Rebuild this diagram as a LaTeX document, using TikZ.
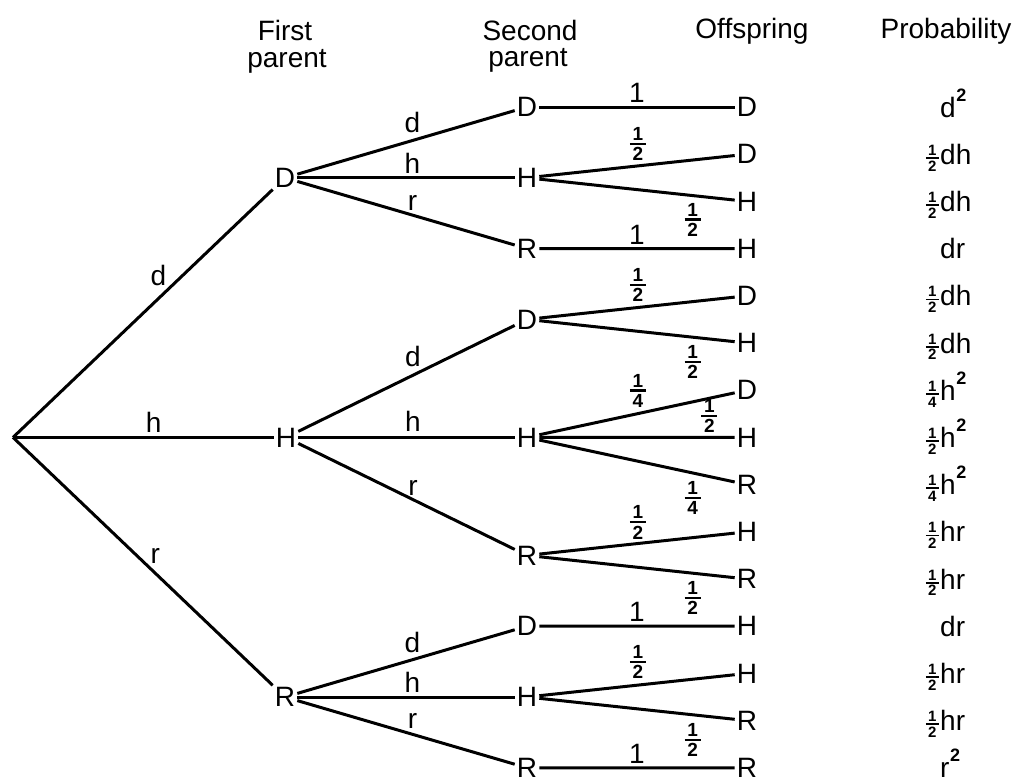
\documentclass[tikz,border=0pt]{standalone}
\usepackage{fontspec}
\setmainfont{Liberation Sans}

% stacked fraction: size, numerator, denominator
\newcommand\fr[3]{\ensuremath{\vcenter{\hbox{\fontsize{#1}{#1}\selectfont\bfseries
  \vbox{\offinterlineskip\halign{\hfil##\hfil\cr
    #2\cr
    \noalign{\kern0.12em}
    \vrule width 0.85em height 0.12em depth 0pt\cr
    \noalign{\kern0.12em}
    #3\cr}}}}}}
% bold raised square
\newcommand\sq{\kern0.5pt\raisebox{16pt}{\fontsize{18}{18}\selectfont\bfseries 2}}
% probability entry: fraction hangs to the left of the letters
\newcommand\pr[2]{\llap{#1\kern1.5pt}#2}
\newcommand\half{\fr{19}{1}{2}}
\newcommand\quarter{\fr{19}{1}{4}}
\newcommand\phalf{\fr{15}{1}{2}}
\newcommand\pquarter{\fr{15}{1}{4}}

\begin{document}
\begin{tikzpicture}[x=1pt,y=-1pt,
  every node/.style={font=\fontsize{28}{28}\selectfont},
  gn/.style={inner sep=2pt},
  br/.style={line width=3pt},
  lb/.style={inner sep=0pt},
  hd/.style={anchor=base, inner sep=0pt},
  pb/.style={anchor=base west, inner sep=0pt}]
\useasboundingbox (0,0) rectangle (1017,782);

% column headings
\node[hd] (h1a) at (285,40) {First};
\node[hd] (h1b) at (287,67) {parent};
\node[hd] (h2a) at (530,40) {Second};
\node[hd] (h2b) at (528,66) {parent};
\node[hd] (h3)  at (752,38) {Offspring};
\node[hd] (h4)  at (946,38) {Probability};

% root and first parent
\coordinate (root) at (13,437.4);
\node[gn] (DP) at (285,177.8) {D};
\node[gn] (HP) at (286,437.4) {H};
\node[gn] (RP) at (285,697) {R};

% second parent
\node[gn] (DD) at (527,107) {D};
\node[gn] (DH) at (527,177.8) {H};
\node[gn] (DR) at (527,248.6) {R};
\node[gn] (HD) at (527,319.4) {D};
\node[gn] (HH) at (527,437.4) {H};
\node[gn] (HR) at (527,555.4) {R};
\node[gn] (RD) at (527,626.2) {D};
\node[gn] (RH) at (527,697) {H};
\node[gn] (RR) at (527,767.8) {R};

% offspring
\foreach \i/\l in {0/D,1/D,2/H,3/H,4/D,5/H,6/D,7/H,8/R,9/H,10/R,11/H,12/H,13/R,14/R}
  \node[gn] (o\i) at (747,{107+47.2*\i}) {\l};

% probabilities
\foreach \i/\t in {0/{d\sq},1/{\pr{\phalf}{dh}},2/{\pr{\phalf}{dh}},3/{dr},
    4/{\pr{\phalf}{dh}},5/{\pr{\phalf}{dh}},6/{\pr{\pquarter}{h\sq}},
    7/{\pr{\phalf}{h\sq}},8/{\pr{\pquarter}{h\sq}},9/{\pr{\phalf}{hr}},
    10/{\pr{\phalf}{hr}},11/{dr},12/{\pr{\phalf}{hr}},13/{\pr{\phalf}{hr}},14/{r\sq}}
  \node[pb] (p\i) at (940,{117+47.2*\i}) {\t};

% first parent branches
\draw[br] (root) -- node[lb,pos=.6,above left=1pt] {d} (DP);
\draw[br] (root) -- node[lb,pos=.54,above=3pt] {h} (HP);
\draw[br] (root) -- node[lb,pos=.52,above right=1pt] {r} (RP);

% second parent branches
\draw[br] (DP) -- node[lb,pos=.53,above=6pt] {d} (DD);
\draw[br] (DP) -- node[lb,pos=.53,above=3pt] {h} (DH);
\draw[br] (DP) -- node[lb,pos=.53,above=3pt] {r} (DR);
\draw[br] (HP) -- node[lb,pos=.53,above=7pt] {d} (HD);
\draw[br] (HP) -- node[lb,pos=.53,above=4pt] {h} (HH);
\draw[br] (HP) -- node[lb,pos=.53,above=3pt] {r} (HR);
\draw[br] (RP) -- node[lb,pos=.53,above=5pt] {d} (RD);
\draw[br] (RP) -- node[lb,pos=.53,above=3pt] {h} (RH);
\draw[br] (RP) -- node[lb,pos=.53,above=4pt] {r} (RR);

% offspring branches
\draw[br] (DD) -- node[lb,pos=.5,above=3pt] {1} (o0);
\draw[br] (DH) -- node[lb,pos=.505,above=4pt] {\half} (o1);
\draw[br] (DH) -- node[lb,pos=.785,below=6pt] {\half} (o2);
\draw[br] (DR) -- node[lb,pos=.5,above=3pt] {1} (o3);
\draw[br] (HD) -- node[lb,pos=.505,above=4pt] {\half} (o4);
\draw[br] (HD) -- node[lb,pos=.785,below=7pt] {\half} (o5);
\draw[br] (HH) -- node[lb,pos=.505,above=5pt] {\quarter} (o6);
\draw[br] (HH) -- node[lb,pos=.87,above=3pt] {\half} (o7);
\draw[br] (HH) -- node[lb,pos=.785,below=7pt] {\quarter} (o8);
\draw[br] (HR) -- node[lb,pos=.505,above=3pt] {\half} (o9);
\draw[br] (HR) -- node[lb,pos=.785,below=7pt] {\half} (o10);
\draw[br] (RD) -- node[lb,pos=.5,above=3pt] {1} (o11);
\draw[br] (RH) -- node[lb,pos=.505,above=5pt] {\half} (o12);
\draw[br] (RH) -- node[lb,pos=.785,below=7pt] {\half} (o13);
\draw[br] (RR) -- node[lb,pos=.5,above=3pt] {1} (o14);
\end{tikzpicture}
\end{document}
